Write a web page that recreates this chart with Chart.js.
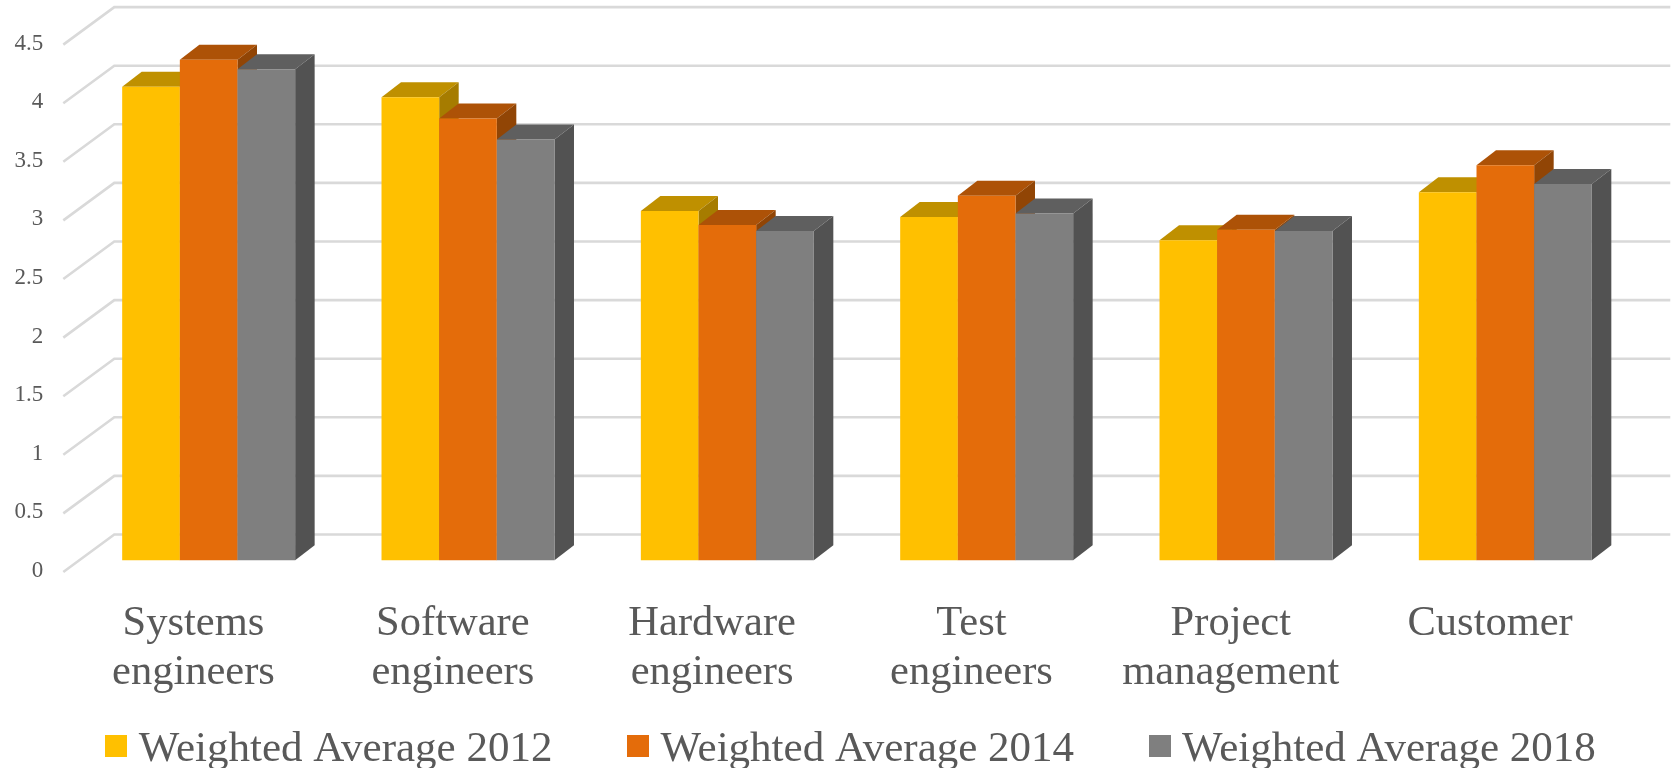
<!DOCTYPE html>
<html>
<head>
<meta charset="utf-8">
<style>html,body{margin:0;padding:0;background:#fff}canvas{display:block}</style>
<script src="https://cdn.jsdelivr.net/npm/chart.js@4"></script>
</head>
<body>
<canvas id="c" width="1675" height="768"></canvas>
<script>
const categories = [["Systems","engineers"],["Software","engineers"],["Hardware","engineers"],["Test","engineers"],["Project","management"],["Customer"]];
const seriesNames = ["Weighted Average 2012","Weighted Average 2014","Weighted Average 2018"];
const values2012 = [4.04,3.95,2.98,2.93,2.73,3.14];
const values2014 = [4.27,3.77,2.86,3.11,2.82,3.37];
const values2018 = [4.19,3.59,2.81,2.96,2.81,3.21];
const frontColors = ["#FFC000","#E46C0A","#7F7F7F"];
const topColors = ["#BF9000","#AD5207","#5F5F5F"];
const sideColors = ["#A67C00","#914505","#525252"];

const textColor = "#595959", gridColor = "#D9D9D9", serif = "'Liberation Serif'";
const barDepth = {dx:19.5, dy:-15};
const floorFront = {dx:-15.7, dy:11.7};
const wallBack = {dx:35.3, dy:-25.8};

function poly(ctx, pts, color){
  ctx.fillStyle = color; ctx.beginPath();
  pts.forEach((p,i)=> i ? ctx.lineTo(p[0],p[1]) : ctx.moveTo(p[0],p[1]));
  ctx.closePath(); ctx.fill();
}
function legendSwatch(color){
  const c = document.createElement('canvas');
  c.width = 22; c.height = 29;
  const g = c.getContext('2d');
  g.fillStyle = color; g.fillRect(0,0,22,22);
  return c;
}
const swatches = frontColors.map(legendSwatch);
function shiftDraw(ctx, scale, dx, dy){
  const orig = scale.drawLabels;
  scale.drawLabels = function(a){ ctx.save(); ctx.translate(dx,dy); orig.call(this,a); ctx.restore(); };
}
const threeD = {
  id:'threeD',
  afterLayout(chart){
    const l = chart.legend;
    l.top = 643.5; l.bottom = 768;
    l.left = 18; l.right = 1693;
    if(!chart.$shifted){
      chart.$shifted = true;
      shiftDraw(chart.ctx, chart.scales.y, 0, floorFront.dy-1);
      shiftDraw(chart.ctx, chart.scales.x, floorFront.dx+0.5, 0);
    }
  },
  beforeDatasetsDraw(chart){
    const {ctx, chartArea:{left,right}, scales:{y}} = chart;
    ctx.save();
    ctx.strokeStyle = gridColor; ctx.lineWidth = 2.6; ctx.lineCap = 'butt';
    y.ticks.forEach(t=>{
      const py = y.getPixelForValue(t.value);
      ctx.beginPath();
      ctx.moveTo(left+floorFront.dx, py+floorFront.dy);
      ctx.lineTo(left+wallBack.dx, py+wallBack.dy);
      ctx.lineTo(right+wallBack.dx, py+wallBack.dy);
      ctx.stroke();
    });
    ctx.restore();
  },
  beforeDatasetDraw(){ return false; },
  afterDatasetsDraw(chart){
    const ctx = chart.ctx, {dx,dy} = barDepth;
    categories.forEach((_,c)=>{
      seriesNames.forEach((_,s)=>{
        const el = chart.getDatasetMeta(s).data[c];
        const l = el.x-el.width/2, r = el.x+el.width/2, t = el.y, b = el.base;
        poly(ctx,[[l,t],[r,t],[r+dx,t+dy],[l+dx,t+dy]],topColors[s]);
        poly(ctx,[[r,t],[r+dx,t+dy],[r+dx,b+dy],[r,b]],sideColors[s]);
        el.draw(ctx);
      });
    });
  }
};
Chart.defaults.animation = false;
new Chart(document.getElementById('c'),{
  type:'bar',
  data:{
    labels:categories,
    datasets:[values2012,values2014,values2018].map((d,i)=>({
      label:seriesNames[i], data:d, backgroundColor:frontColors[i], borderWidth:0,
      categoryPercentage:0.667, barPercentage:1
    }))
  },
  options:{
    responsive:false,
    layout:{autoPadding:false,padding:{top:32.9,left:0,right:0,bottom:0}},
    plugins:{
      tooltip:{enabled:false},
      legend:{
        position:'bottom', align:'center', maxHeight:60,
        labels:{
          padding:84.5, boxWidth:2, boxHeight:2, usePointStyle:true, pointStyleWidth:2,
          font:{family:serif,size:43}, color:textColor,
          generateLabels(chart){
            return seriesNames.map((n,i)=>({text:n,fillStyle:frontColors[i],strokeStyle:frontColors[i],pointStyle:swatches[i],lineWidth:0,fontColor:textColor,datasetIndex:i,hidden:false}));
          }
        }
      }
    },
    scales:{
      x:{
        grid:{display:false,drawTicks:false}, border:{display:false},
        ticks:{font:{family:serif,size:42.5,lineHeight:1.16},color:textColor,autoSkip:false,maxRotation:0,minRotation:0,padding:38.5},
        afterFit(s){s.height=147.7;}
      },
      y:{
        min:0,max:4.5,
        grid:{display:false,drawTicks:false}, border:{display:false},
        ticks:{stepSize:0.5,font:{family:serif,size:23},color:textColor,padding:35.7,callback:v=>String(v)},
        afterFit(s){s.width=79;s.paddingTop=0;s.paddingBottom=0;}
      },
      yPad:{
        position:'right',display:true,grid:{display:false,drawTicks:false},border:{display:false},
        ticks:{display:false},afterFit(s){s.width=40;}
      }
    }
  },
  plugins:[threeD]
});
</script>
</body>
</html>
